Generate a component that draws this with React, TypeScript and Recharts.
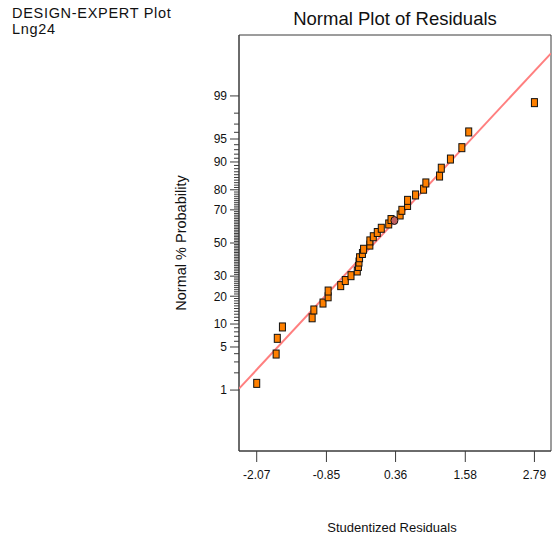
import React from 'react';
import { ScatterChart, Scatter, XAxis, YAxis, ReferenceArea } from 'recharts';

// ---- data ----
const residuals = [
  -2.07, -1.73, -1.71, -1.62, -1.1, -1.07, -0.91, -0.82, -0.82, -0.6,
  -0.52, -0.42, -0.31, -0.29, -0.28, -0.27, -0.22, -0.2, -0.09, -0.09,
  -0.03, 0.04, 0.11, 0.24, 0.28, 0.44, 0.47, 0.57, 0.57, 0.71,
  0.85, 0.89, 1.13, 1.16, 1.32, 1.52, 1.64, 2.79,
];
const probabilities = [
  1.32, 3.95, 6.58, 9.21, 11.84, 14.47, 17.11, 19.74, 22.37, 25.0,
  27.63, 30.26, 32.89, 35.53, 38.16, 40.79, 43.42, 46.05, 48.68, 51.32,
  53.95, 56.58, 59.21, 61.84, 64.47, 67.11, 69.74, 72.37, 75.0, 77.63,
  80.26, 82.89, 85.53, 88.16, 90.79, 93.42, 96.05, 98.68,
];
const highlightX = [0.34];
const highlightP = [63.9];
const fitLineX = [-2.38, 3.08];
const fitLineP = [1.06, 99.865];
const xTickValues = [-2.07, -0.85, 0.36, 1.58, 2.79];
const xTickLabels = ['-2.07', '-0.85', '0.36', '1.58', '2.79'];
const yMajorPercents = [1, 5, 10, 20, 30, 50, 70, 80, 90, 95, 99];
const yMinorPercents = Array.from({ length: 99 }, (_, i) => i + 1);

// normal quantile (probability axis transform)
function probit(p: number): number {
  const a = [-3.969683028665376e1, 2.209460984245205e2, -2.759285104469687e2, 1.38357751867269e2, -3.066479806614716e1, 2.506628277459239];
  const b = [-5.447609879822406e1, 1.615858368580409e2, -1.556989798598866e2, 6.680131188771972e1, -1.328068155288572e1];
  const c = [-7.784894002430293e-3, -3.223964580411365e-1, -2.400758277161838, -2.54967134816654, 4.374664141464968, 2.938163982698783];
  const d = [7.784695709041462e-3, 3.224671290700398e-1, 2.445134137142996, 3.754408661907416];
  const plow = 0.02425;
  const phigh = 1 - plow;
  if (p < plow) {
    const q = Math.sqrt(-2 * Math.log(p));
    return (((((c[0] * q + c[1]) * q + c[2]) * q + c[3]) * q + c[4]) * q + c[5]) / ((((d[0] * q + d[1]) * q + d[2]) * q + d[3]) * q + 1);
  }
  if (p <= phigh) {
    const q = p - 0.5;
    const r = q * q;
    return ((((((a[0] * r + a[1]) * r + a[2]) * r + a[3]) * r + a[4]) * r + a[5]) * q) / (((((b[0] * r + b[1]) * r + b[2]) * r + b[3]) * r + b[4]) * r + 1);
  }
  const q = Math.sqrt(-2 * Math.log(1 - p));
  return -(((((c[0] * q + c[1]) * q + c[2]) * q + c[3]) * q + c[4]) * q + c[5]) / ((((d[0] * q + d[1]) * q + d[2]) * q + d[3]) * q + 1);
}

const X_DOMAIN: [number, number] = [-2.38, 3.08];
const Y_DOMAIN: [number, number] = [-3.29, 3.29];

const points = residuals.map((x, i) => ({ x, z: probit(probabilities[i] / 100) }));
const highlight = highlightX.map((x, i) => ({ x, z: probit(highlightP[i] / 100) }));
const fitLine = fitLineX.map((x, i) => ({ x, z: probit(fitLineP[i] / 100) }));
const yTicks = yMinorPercents.map((p) => probit(p / 100));

const FONT = '"Liberation Sans", Arial, Helvetica, sans-serif';
const AXIS = '#3a3a3a';

const XTick = (props: any) => {
  const { x, y, index } = props;
  return (
    <g>
      <line x1={x} x2={x} y1={y} y2={y + 11} stroke={AXIS} strokeWidth={1} />
      <text x={x} y={y + 28} textAnchor="middle" fontSize={12} fontFamily={FONT} fill="#111">
        {xTickLabels[index]}
      </text>
    </g>
  );
};

const YTick = (props: any) => {
  const { x, y, index } = props;
  const pct = yMinorPercents[index];
  const major = yMajorPercents.includes(pct);
  return (
    <g>
      <line x1={x - (major ? 9 : 5)} x2={x} y1={y} y2={y} stroke={AXIS} strokeWidth={1} />
      {major && (
        <text x={x - 12} y={y + 4.3} textAnchor="end" fontSize={12} fontFamily={FONT} fill="#111">
          {pct}
        </text>
      )}
    </g>
  );
};

const SquareShape = (props: any) => {
  const { cx, cy } = props;
  return <rect x={cx - 3} y={cy - 4} width={6} height={8} fill="#FF8000" stroke="#111" strokeWidth={1} />;
};

const CircleShape = (props: any) => {
  const { cx, cy } = props;
  return <ellipse cx={cx} cy={cy} rx={3.5} ry={4} fill="#C06060" stroke="#111" strokeWidth={1} />;
};

const NoShape = () => <g />;

export default function App() {
  return (
    <div style={{ position: 'absolute', left: 0, top: 0, width: 552, height: 537, background: '#fff' }}>
      <ScatterChart width={552} height={537} margin={{ top: 35, right: 1, bottom: 0, left: 0 }}>
        <XAxis
          dataKey="x"
          type="number"
          domain={X_DOMAIN}
          allowDataOverflow
          ticks={xTickValues}
          interval={0}
          tickSize={0}
          tickMargin={0}
          tickLine={false}
          tick={<XTick />}
          height={86}
          axisLine={{ stroke: AXIS, strokeWidth: 1 }}
        />
        <YAxis
          dataKey="z"
          type="number"
          domain={Y_DOMAIN}
          allowDataOverflow
          ticks={yTicks}
          interval={0}
          tickSize={0}
          tickMargin={0}
          tickLine={false}
          tick={<YTick />}
          width={239}
          axisLine={{ stroke: AXIS, strokeWidth: 1 }}
        />
        <ReferenceArea
          x1={X_DOMAIN[0]}
          x2={X_DOMAIN[1]}
          y1={Y_DOMAIN[0]}
          y2={Y_DOMAIN[1]}
          fill="none"
          fillOpacity={0}
          stroke={AXIS}
          strokeWidth={1}
          ifOverflow="visible"
        />
        <Scatter data={fitLine} line={{ stroke: '#FF7F7F', strokeWidth: 2 }} shape={<NoShape />} isAnimationActive={false} />
        <Scatter data={points} shape={<SquareShape />} isAnimationActive={false} />
        <Scatter data={highlight} shape={<CircleShape />} isAnimationActive={false} />
      </ScatterChart>
      <svg width={552} height={537} style={{ position: 'absolute', left: 0, top: 0, pointerEvents: 'none' }}>
        <text x={12} y={18} fontSize={14.5} letterSpacing={0.7} fontFamily={FONT} fill="#111">DESIGN-EXPERT Plot</text>
        <text x={12} y={34} fontSize={14.5} letterSpacing={0.7} fontFamily={FONT} fill="#111">Lng24</text>
        <text x={395} y={25} textAnchor="middle" fontSize={18.5} fontFamily={FONT} fill="#111">Normal Plot of Residuals</text>
        <text x={392} y={532} textAnchor="middle" fontSize={13} fontFamily={FONT} fill="#111">Studentized Residuals</text>
        <text transform="translate(186,243) rotate(-90)" textAnchor="middle" fontSize={14.5} fontFamily={FONT} fill="#111">Normal % Probability</text>
      </svg>
    </div>
  );
}
